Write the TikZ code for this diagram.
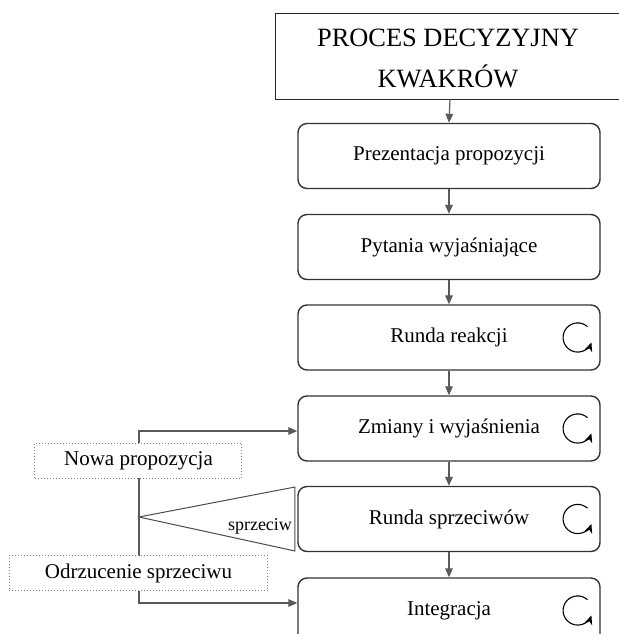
\documentclass[tikz,border=0pt]{standalone}
\usepackage{fontspec}
\setmainfont{Liberation Serif}
\usetikzlibrary{arrows.meta}

\begin{document}
\begin{tikzpicture}[
    x=0.5pt, y=-0.5pt,
    title/.style={minimum height=43pt, align=center, font=\fontsize{13.2}{20.5}\selectfont},
    stage/.style={draw=black!80, line width=0.7pt, rounded corners=4.5pt, minimum width=151pt,
      minimum height=32.5pt, font=\fontsize{10.5}{12}\selectfont},
    note/.style={draw=black!50, densely dotted, line width=0.5pt, fill=white, minimum height=17.5pt,
      font=\fontsize{10.5}{12}\selectfont},
    link/.style={draw=black!65, line width=0.6pt, -{Triangle[length=4.5pt,width=3.8pt]}},
    turn/.style={draw=black, line width=0.55pt, -{Stealth[length=4.5pt,width=4pt]}}
  ]
  \useasboundingbox (0,0) rectangle (619,634);
  \clip (0,0) rectangle (619,634);

  % Stages
  \node[title] (title) at (448,58) {PROCES DECYZYJNY\\KWAKRÓW};
  \draw[black!85, line width=0.5pt] (700,13) -- (276,13) -- (276,99) -- (700,99);
  \node[stage] (prezentacja) at (449,156) {Prezentacja propozycji};
  \node[stage] (pytania) at (449,247) {Pytania wyjaśniające};
  \node[stage] (reakcje) at (449,337.5) {Runda reakcji};
  \node[stage] (zmiany) at (449,428.5) {Zmiany i wyjaśnienia};
  \node[stage] (sprzeciwy) at (449,519) {Runda sprzeciwów};
  \node[stage] (integracja) at (449,610.5) {Integracja};

  % Main flow
  \draw[link] (450,99) -- (prezentacja.north);
  \foreach \a/\b in {prezentacja/pytania, pytania/reakcje,
                     reakcje/zmiany, zmiany/sprzeciwy, sprzeciwy/integracja}
    \draw[link] (\a.south) -- (\b.north);

  % Rounds
  \foreach \n in {reakcje, zmiany, sprzeciwy, integracja}
    \draw[turn] ([xshift=-11.5pt]\n.east) ++(48:7.3pt) arc[start angle=48, end angle=340, radius=7.3pt];

  % Objection
  \coordinate (fork) at (139,517);
  \draw[draw=black!70, line width=0.5pt] (fork) -- (295,487) -- (295,551) -- cycle;
  \node[font=\fontsize{9}{10}\selectfont] (sprzeciw) at (260,526) {sprzeciw};
  \draw[link] (fork) |- ([yshift=-1.25pt]zmiany.west);
  \draw[link] (fork) |- ([yshift=3.75pt]integracja.west);
  \node[note, minimum width=103.5pt] (nowa) at (138.5,460.5) {Nowa propozycja};
  \node[note, minimum width=129.5pt] (odrzucenie) at (138.5,573) {Odrzucenie sprzeciwu};
\end{tikzpicture}
\end{document}
